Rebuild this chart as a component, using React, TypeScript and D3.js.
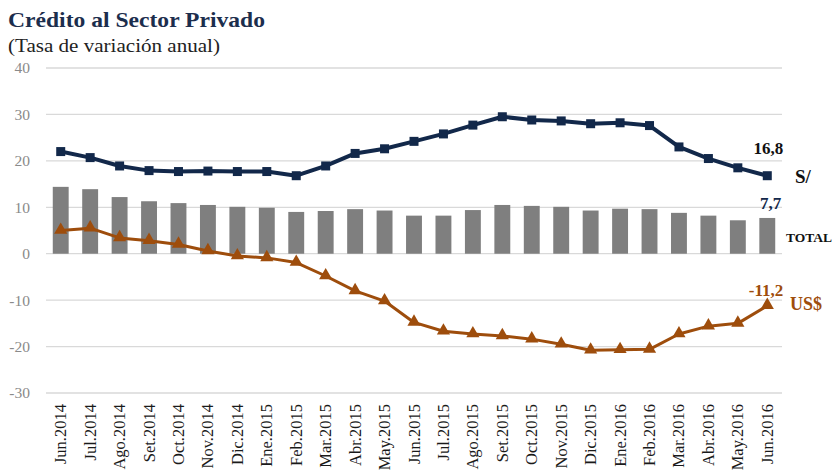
import React from 'react';
import * as d3 from 'd3';

const months = [
  'Jun.2014', 'Jul.2014', 'Ago.2014', 'Set.2014', 'Oct.2014', 'Nov.2014', 'Dic.2014',
  'Ene.2015', 'Feb.2015', 'Mar.2015', 'Abr.2015', 'May.2015', 'Jun.2015', 'Jul.2015',
  'Ago.2015', 'Set.2015', 'Oct.2015', 'Nov.2015', 'Dic.2015', 'Ene.2016', 'Feb.2016',
  'Mar.2016', 'Abr.2016', 'May.2016', 'Jun.2016',
];

const totalValues = [
  14.4, 13.9, 12.2, 11.3, 10.9, 10.5, 10.1, 9.9, 9.0, 9.2, 9.6, 9.3, 8.2,
  8.2, 9.4, 10.5, 10.3, 10.1, 9.3, 9.7, 9.6, 8.8, 8.2, 7.2, 7.7,
];

const solesValues = [
  22.0, 20.7, 18.9, 17.9, 17.7, 17.8, 17.7, 17.7, 16.8, 18.9, 21.6, 22.6, 24.2,
  25.8, 27.7, 29.5, 28.8, 28.6, 28.0, 28.2, 27.6, 23.0, 20.5, 18.5, 16.8,
];

const dollarValues = [
  5.0, 5.5, 3.4, 2.8, 2.0, 0.6, -0.5, -0.9, -1.9, -4.8, -8.0, -10.2, -14.8,
  -16.7, -17.3, -17.7, -18.4, -19.5, -20.8, -20.7, -20.6, -17.3, -15.6, -15.0, -11.2,
];

const yTicks = [40, 30, 20, 10, 0, -10, -20, -30];

const W = 835;
const H = 470;
const margin = { left: 46, right: 53, top: 68, bottom: 77 };

const NAVY = '#12284a';
const BROWN = '#9e4d0c';
const GRAY_BAR = '#7f7f7f';
const FONT = "'Liberation Serif', 'DejaVu Serif', serif";

export default function App() {
  const x = d3
    .scaleBand<string>()
    .domain(months)
    .range([margin.left, W - margin.right])
    .paddingInner(0.46)
    .paddingOuter(0.23);

  const y = d3.scaleLinear().domain([-30, 40]).range([H - margin.bottom, margin.top]);

  const cx = (i: number) => (x(months[i]) || 0) + x.bandwidth() / 2;

  const line = d3
    .line<number>()
    .x((_, i) => cx(i))
    .y((d) => y(d));

  const tri = d3.symbol().type(d3.symbolTriangle).size(75);

  const last = months.length - 1;

  return (
    <svg
      width={W}
      height={H}
      style={{ position: 'absolute', left: 0, top: 0, background: '#fff' }}
      fontFamily={FONT}
    >
      <text x={8} y={27} fontSize={22} fontWeight="bold" fill="#1c2e4d" textLength={257} lengthAdjust="spacingAndGlyphs">
        Crédito al Sector Privado
      </text>
      <text x={8} y={52} fontSize={19} fill="#222" textLength={212} lengthAdjust="spacingAndGlyphs">
        (Tasa de variación anual)
      </text>

      {/* grid + y labels */}
      {yTicks.map((t) => (
        <g key={t}>
          <line
            x1={margin.left}
            x2={W - margin.right}
            y1={y(t)}
            y2={y(t)}
            stroke="#d9d9d9"
            strokeWidth={1.3}
          />
          <text x={30} y={y(t)} dy="0.35em" textAnchor="end" fontSize={15.5} fill="#8a8a8a">
            {t}
          </text>
        </g>
      ))}

      {/* bars (TOTAL) */}
      {totalValues.map((v, i) => (
        <rect
          key={months[i]}
          x={x(months[i])}
          y={y(Math.max(0, v))}
          width={x.bandwidth()}
          height={Math.abs(y(v) - y(0))}
          fill={GRAY_BAR}
        />
      ))}

      {/* S/ line */}
      <path d={line(solesValues) || ''} fill="none" stroke={NAVY} strokeWidth={4} strokeLinejoin="round" />
      {solesValues.map((v, i) => (
        <rect key={'s' + i} x={cx(i) - 4.5} y={y(v) - 4.5} width={9} height={9} fill={NAVY} />
      ))}

      {/* US$ line */}
      <path d={line(dollarValues) || ''} fill="none" stroke={BROWN} strokeWidth={3} strokeLinejoin="round" />
      {dollarValues.map((v, i) => (
        <path key={'d' + i} d={tri() || ''} transform={`translate(${cx(i)},${y(v) - 0.5})`} fill={BROWN} />
      ))}

      {/* x labels */}
      {months.map((m, i) => (
        <text
          key={m}
          transform={`translate(${cx(i) + 5.5},${H - margin.bottom + 11}) rotate(-90)`}
          textAnchor="end"
          fontSize={16.5}
          fill="#1a1a1a"
        >
          {m}
        </text>
      ))}

      {/* annotations */}
      <text x={cx(last) + 16} y={y(solesValues[last]) - 22} textAnchor="end" fontSize={17} fontWeight="bold" fill="#111">
        16,8
      </text>
      <text x={795} y={y(solesValues[last]) + 7} fontSize={19} fontWeight="bold" fill="#111">
        S/
      </text>
      <text x={cx(last) + 14} y={y(totalValues[last]) - 9} textAnchor="end" fontSize={17} fontWeight="bold" fill={NAVY}>
        7,7
      </text>
      <text x={786} y={y(0) - 12} fontSize={13.5} fontWeight="bold" fill="#111">
        TOTAL
      </text>
      <text x={cx(last) + 16} y={y(dollarValues[last]) - 10} textAnchor="end" fontSize={17} fontWeight="bold" fill={BROWN}>
        -11,2
      </text>
      <text x={790} y={y(dollarValues[last]) + 4} fontSize={18} fontWeight="bold" fill={BROWN}>
        US$
      </text>
    </svg>
  );
}
